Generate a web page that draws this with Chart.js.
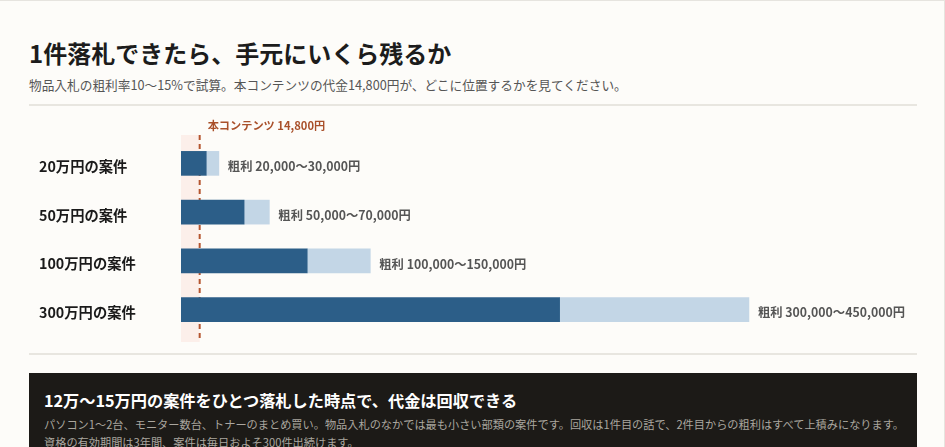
<!DOCTYPE html>
<html lang="ja">
<head>
<meta charset="utf-8">
<script src="https://cdn.jsdelivr.net/npm/chart.js@4.4.1/dist/chart.umd.min.js"></script>
<style>
  html, body { margin: 0; padding: 0; background: #fdfcf9; }
  body { font-family: "Noto Sans CJK JP", "Noto Sans", sans-serif; }
  .wrap {
    box-sizing: border-box;
    width: 945px; height: 447px; overflow: hidden;
    border-top: 1px solid #e6e4df; border-right: 1px solid #e6e4df;
    padding: 0 27px 0 29px;
  }
  h1 { margin: 35px 0 0; font-size: 24px; line-height: 34px; font-weight: 700; color: #1c1c1c; }
  .sub { margin: 5px 0 0; font-size: 12.7px; line-height: 20px; color: #555; }
  .rule { height: 2px; background: #e8e6e0; }
  .rule.top { margin-top: 9px; }
  .rule.bottom { margin-top: 3px; }
  .chart-box { position: relative; width: 888px; height: 244px; }
  .note { margin-top: 18px; background: #1c1a17; padding: 16px 15px 10px; height: 80px; }
  .note h2 { margin: 0; font-size: 16.2px; line-height: 22px; color: #fff; font-weight: 700; }
  .note p { margin: 4px 0 0; font-size: 11.2px; line-height: 18px; color: #aaa69f; white-space: nowrap; }
</style>
</head>
<body>
<div class="wrap">
  <h1>1件落札できたら、手元にいくら残るか</h1>
  <p class="sub">物品入札の粗利率10～15%で試算。本コンテンツの代金14,800円が、どこに位置するかを見てください。</p>
  <div class="rule top"></div>
  <div class="chart-box"><canvas id="profitChart"></canvas></div>
  <div class="rule bottom"></div>
  <div class="note">
    <h2>12万～15万円の案件をひとつ落札した時点で、代金は回収できる</h2>
    <p>パソコン1～2台、モニター数台、トナーのまとめ買い。物品入札のなかでは最も小さい部類の案件です。回収は1件目の話で、2件目からの粗利はすべて上積みになります。<br>資格の有効期間は3年間、案件は毎日およそ300件出続けます。</p>
  </div>
</div>

<script>
  // 案件規模と粗利（10%〜15%）
  const categories = ['20万円の案件', '50万円の案件', '100万円の案件', '300万円の案件'];
  const lowProfit = [20000, 50000, 100000, 300000];
  const highProfit = [30000, 70000, 150000, 450000];
  const contentPrice = 14800;
  const axisMax = 580000;

  const FONT = '"Noto Sans CJK JP", "Noto Sans", sans-serif';
  const fmt = v => v.toLocaleString('en-US');

  // 本コンテンツの代金ライン（背景帯 + 点線 + ラベル）
  const priceMarker = {
    id: 'priceMarker',
    beforeDatasetsDraw(chart) {
      const { ctx, chartArea, scales: { x } } = chart;
      const x0 = x.getPixelForValue(0);
      const xp = x.getPixelForValue(contentPrice);
      const top = chartArea.top - 4;
      const bottom = chartArea.bottom + 8;
      ctx.save();
      ctx.fillStyle = '#fcefea';
      ctx.fillRect(x0, top, xp - x0, bottom - top);
      ctx.strokeStyle = '#b4552f';
      ctx.lineWidth = 2;
      ctx.setLineDash([5, 4]);
      ctx.beginPath();
      ctx.moveTo(xp, top);
      ctx.lineTo(xp, bottom);
      ctx.stroke();
      ctx.setLineDash([]);
      ctx.fillStyle = '#a9502a';
      ctx.font = `700 11.2px ${FONT}`;
      ctx.textAlign = 'left';
      ctx.textBaseline = 'middle';
      ctx.fillText(`本コンテンツ ${fmt(contentPrice)}円`, xp + 8, top - 9);
      ctx.restore();
    },
    afterDatasetsDraw(chart) {
      const { ctx } = chart;
      const meta = chart.getDatasetMeta(1);
      ctx.save();
      ctx.fillStyle = '#555';
      ctx.font = `700 12.3px ${FONT}`;
      ctx.textAlign = 'left';
      ctx.textBaseline = 'middle';
      meta.data.forEach((bar, i) => {
        ctx.fillText(`粗利 ${fmt(lowProfit[i])}～${fmt(highProfit[i])}円`, bar.x + 9, bar.y + 3);
      });
      ctx.restore();
    }
  };

  new Chart(document.getElementById('profitChart'), {
    type: 'bar',
    data: {
      labels: categories,
      datasets: [
        {
          label: '粗利10%',
          data: lowProfit,
          backgroundColor: '#2c5e88',
          barThickness: 24
        },
        {
          label: '粗利15%',
          data: highProfit.map((v, i) => v - lowProfit[i]),
          backgroundColor: '#c3d6e6',
          barThickness: 24
        }
      ]
    },
    options: {
      indexAxis: 'y',
      responsive: true,
      maintainAspectRatio: false,
      animation: false,
      layout: { padding: { top: 33, bottom: 16, left: 10, right: 4 } },
      plugins: { legend: { display: false }, tooltip: { enabled: false } },
      scales: {
        x: { stacked: true, min: 0, max: axisMax, display: false },
        y: {
          stacked: true,
          grid: { display: false },
          border: { display: false },
          afterFit(scale) { scale.width = 142; },
          ticks: {
            crossAlign: 'far',
            labelOffset: 3,
            color: '#1a1a1a',
            font: { family: FONT, size: 14.3, weight: '700' }
          }
        }
      }
    },
    plugins: [priceMarker]
  });
</script>
</body>
</html>
